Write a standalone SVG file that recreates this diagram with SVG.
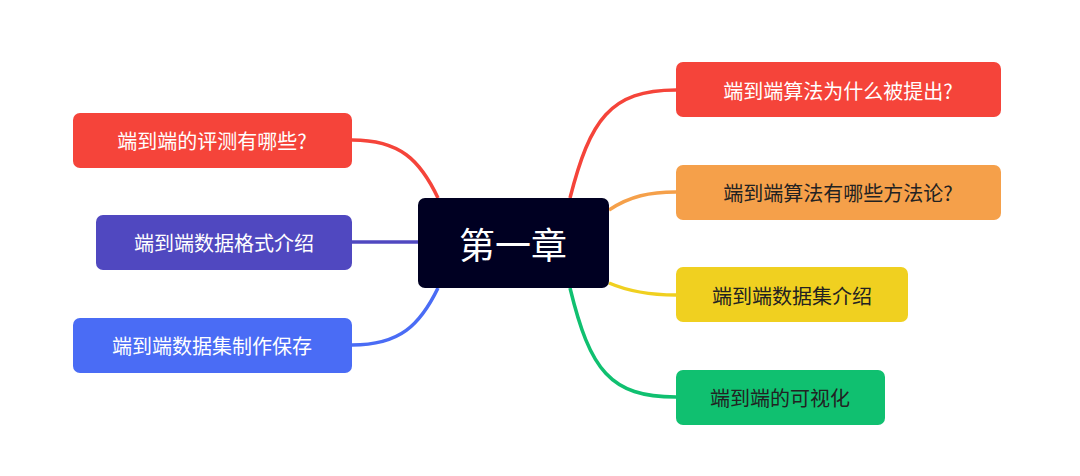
<svg xmlns="http://www.w3.org/2000/svg" width="1080" height="476" viewBox="0 0 1080 476">
<style>
text{font-family:"Noto Sans CJK SC","Liberation Sans",sans-serif;font-size:20px;dominant-baseline:central}
.w{fill:#fff}.d{fill:#222}
path{fill:none;stroke-width:3.5}
</style>
<rect width="1080" height="476" fill="#fff"/>
<g id="connectors">
<path d="M570 198 C590 120 610 90 676 90" stroke="#F5443A"/>
<path d="M609 210 C630 196 650 192 676 192" stroke="#F5A04A"/>
<path d="M609 283 C630 292 650 295 676 295" stroke="#F0D020"/>
<path d="M570 288 C590 370 610 397 676 397" stroke="#10C070"/>
<path d="M438 198 C420 160 400 140 352 140" stroke="#F5443A"/>
<path d="M352 242 L418 242" stroke="#5048C0"/>
<path d="M438 288 C420 325 400 345 352 345" stroke="#4A6CF5"/>
</g>
<g id="center"><rect x="418" y="198" width="191" height="90" rx="7" fill="#000022"/><text x="513" y="243" text-anchor="middle" class="w" style="font-size:36px">第一章</text></g>
<g id="r1"><rect x="676" y="62" width="325" height="55" rx="7" fill="#F5443A"/><text x="838" y="90" text-anchor="middle" class="w">端到端算法为什么被提出?</text></g>
<g id="r2"><rect x="676" y="165" width="325" height="55" rx="7" fill="#F5A04A"/><text x="838" y="192" text-anchor="middle" class="d">端到端算法有哪些方法论?</text></g>
<g id="r3"><rect x="676" y="267" width="232" height="55" rx="7" fill="#F0D020"/><text x="792" y="295" text-anchor="middle" class="d">端到端数据集介绍</text></g>
<g id="r4"><rect x="676" y="370" width="209" height="55" rx="7" fill="#10C070"/><text x="780" y="397" text-anchor="middle" class="d">端到端的可视化</text></g>
<g id="l1"><rect x="73" y="113" width="279" height="55" rx="7" fill="#F5443A"/><text x="212" y="140" text-anchor="middle" class="w">端到端的评测有哪些?</text></g>
<g id="l2"><rect x="96" y="215" width="256" height="55" rx="7" fill="#5048C0"/><text x="224" y="242" text-anchor="middle" class="w">端到端数据格式介绍</text></g>
<g id="l3"><rect x="73" y="318" width="279" height="55" rx="7" fill="#4A6CF5"/><text x="212" y="345" text-anchor="middle" class="w">端到端数据集制作保存</text></g>
</svg>
